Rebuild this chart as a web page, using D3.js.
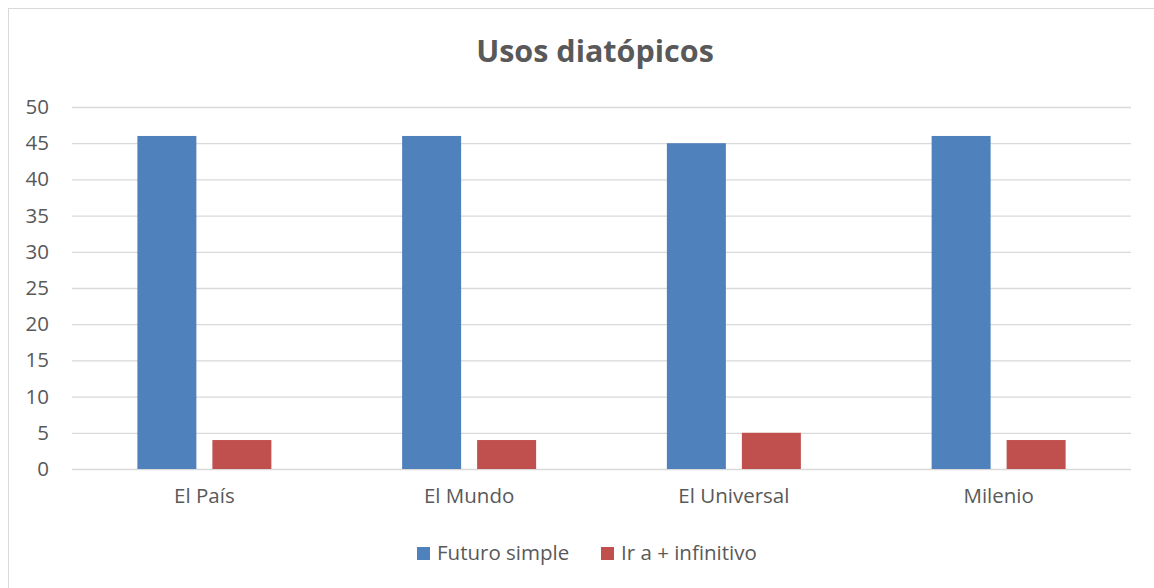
<!DOCTYPE html>
<html><head><meta charset="utf-8">
<script src="https://cdn.jsdelivr.net/npm/d3@7"></script>
<style>body{margin:0;background:#fff}svg{display:block}</style>
</head><body>
<svg id="c" width="1154" height="588"></svg>
<script>
const categories = ["El País", "El Mundo", "El Universal", "Milenio"];
const seriesNames = ["Futuro simple", "Ir a + infinitivo"];
const futuroSimple = [46, 46, 45, 46];
const irAInfinitivo = [4, 4, 5, 4];
const yTicks = [0, 5, 10, 15, 20, 25, 30, 35, 40, 45, 50];
const colors = ["#4F81BD", "#C0504D"];

const font = "'Open Sans', 'Noto Sans', sans-serif";
const fs = 20.5;
const svg = d3.select("#c");
svg.append("rect").attr("x", 8.5).attr("y", 8.5).attr("width", 1180).attr("height", 600)
  .attr("fill", "#fff").attr("stroke", "#D9D9D9");

const pLeft = 72, pRight = 1131, pTop = 107, pBottom = 469;
const x = d3.scaleBand().domain(categories).range([pLeft, pRight]);
const y = d3.scaleLinear().domain([0, 50]).range([pBottom, pTop]);

svg.append("text").attr("x", 595).attr("y", 62).attr("text-anchor", "middle")
  .attr("font-family", font).attr("font-weight", "bold").attr("font-size", 30.5)
  .attr("fill", "#595959").text("Usos diatópicos");

const yAxis = svg.append("g").attr("transform", `translate(${pLeft},0)`)
  .call(d3.axisLeft(y).tickValues(yTicks).tickSize(-(pRight - pLeft)).tickPadding(23));
yAxis.select(".domain").remove();
yAxis.selectAll("line").attr("stroke", "#D9D9D9").attr("stroke-width", 1.3);
yAxis.selectAll("text").attr("font-family", font).attr("font-size", fs).attr("fill", "#595959");

const xAxis = svg.append("g").attr("transform", `translate(0,${pBottom})`)
  .call(d3.axisBottom(x).tickSize(0).tickPadding(19));
xAxis.select(".domain").remove();
xAxis.selectAll("text").attr("font-family", font).attr("font-size", fs).attr("fill", "#595959");

const data = [futuroSimple, irAInfinitivo];
const barW = 59, gap = 16;
data.forEach((vals, si) => {
  svg.append("g").selectAll("rect").data(vals).join("rect")
    .attr("x", (d, i) => x(categories[i]) + x.bandwidth() / 2 - barW - gap / 2 + si * (barW + gap))
    .attr("y", d => y(d)).attr("width", barW).attr("height", d => y(0) - y(d))
    .attr("fill", colors[si]);
});

const legend = svg.append("g");
const lx = [417, 601];
seriesNames.forEach((n, i) => {
  legend.append("rect").attr("x", lx[i]).attr("y", 547).attr("width", 13).attr("height", 13).attr("fill", colors[i]);
  legend.append("text").attr("x", lx[i] + 20).attr("y", 560).attr("font-family", font)
    .attr("font-size", fs).attr("fill", "#595959").text(n);
});
</script>
</body></html>
